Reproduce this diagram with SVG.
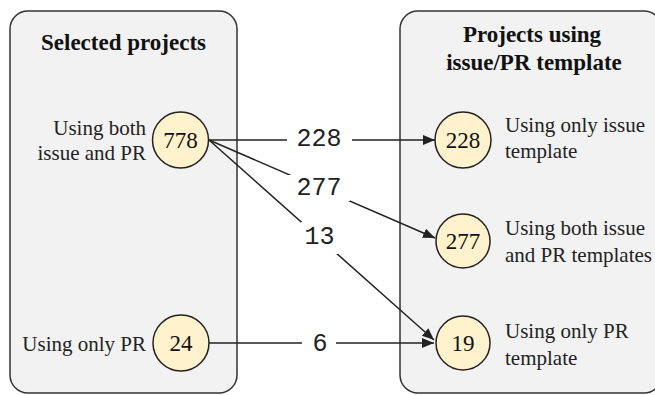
<svg xmlns="http://www.w3.org/2000/svg" width="655" height="395" viewBox="0 0 655 395">
<defs>
<style>
.box{fill:#f2f2f2;stroke:#333;stroke-width:1.5}
.node{fill:#fff2cc;stroke:#222;stroke-width:1.5}
.t{font-family:"Liberation Serif","Times New Roman",serif;font-size:21px;fill:#222}
.title{font-family:"Liberation Serif","Times New Roman",serif;font-size:23px;font-weight:bold;fill:#111}
.num{font-family:"Liberation Serif","Times New Roman",serif;font-size:23px;fill:#111;text-anchor:middle}
.edge{stroke:#222;stroke-width:1.5;fill:none}
.lbl{font-family:"Liberation Mono","Courier New",monospace;font-size:25px;fill:#222;text-anchor:middle}
.bg{fill:#fff}
</style>
<marker id="arr" viewBox="0 0 12 10" refX="12" refY="5" markerWidth="12" markerHeight="10" markerUnits="userSpaceOnUse" orient="auto">
<path d="M0,0 L12,5 L0,10 Z" fill="#222"/>
</marker>
</defs>
<rect width="655" height="395" fill="#fff"/>
<g id="selected-projects">
<rect class="box" x="10" y="11" width="227" height="382" rx="18"/>
<text class="title" x="123.5" y="50" text-anchor="middle">Selected projects</text>
</g>
<g id="template-projects">
<rect class="box" x="400" y="11" width="262" height="382" rx="18"/>
<text class="title" x="532" y="42" text-anchor="middle">Projects using</text>
<text class="title" x="534" y="70" text-anchor="middle">issue/PR template</text>
</g>
<g id="connectors">
<line class="edge" x1="209" y1="140" x2="435" y2="140" marker-end="url(#arr)"/>
<line class="edge" x1="209" y1="140" x2="435" y2="238" marker-end="url(#arr)"/>
<line class="edge" x1="209" y1="140" x2="434" y2="340" marker-end="url(#arr)"/>
<line class="edge" x1="209" y1="343" x2="434" y2="343" marker-end="url(#arr)"/>
<rect class="bg" x="287" y="125" width="65" height="30"/>
<text class="lbl" x="319" y="146">228</text>
<rect class="bg" x="288" y="175" width="62" height="26"/>
<text class="lbl" x="319" y="195">277</text>
<rect class="bg" x="301" y="222" width="37" height="32"/>
<text class="lbl" x="319.5" y="244">13</text>
<rect class="bg" x="302" y="328" width="34" height="30"/>
<text class="lbl" x="320" y="351">6</text>
</g>
<g id="node-778">
<circle class="node" cx="180.5" cy="140" r="28"/>
<text class="num" x="180.5" y="148">778</text>
<text class="t" x="146" y="135" text-anchor="end">Using both</text>
<text class="t" x="146" y="160" text-anchor="end">issue and PR</text>
</g>
<g id="node-24">
<circle class="node" cx="181" cy="343" r="28"/>
<text class="num" x="181" y="351">24</text>
<text class="t" x="146" y="351" text-anchor="end">Using only PR</text>
</g>
<g id="node-228">
<circle class="node" cx="463" cy="140" r="28"/>
<text class="num" x="463" y="148">228</text>
<text class="t" x="505" y="132">Using only issue</text>
<text class="t" x="505" y="158">template</text>
</g>
<g id="node-277">
<circle class="node" cx="463" cy="241" r="27"/>
<text class="num" x="463" y="249">277</text>
<text class="t" x="505" y="235">Using both issue</text>
<text class="t" x="505" y="262">and PR templates</text>
</g>
<g id="node-19">
<circle class="node" cx="463" cy="343" r="27"/>
<text class="num" x="463" y="351">19</text>
<text class="t" x="505" y="338">Using only PR</text>
<text class="t" x="505" y="365">template</text>
</g>
</svg>
